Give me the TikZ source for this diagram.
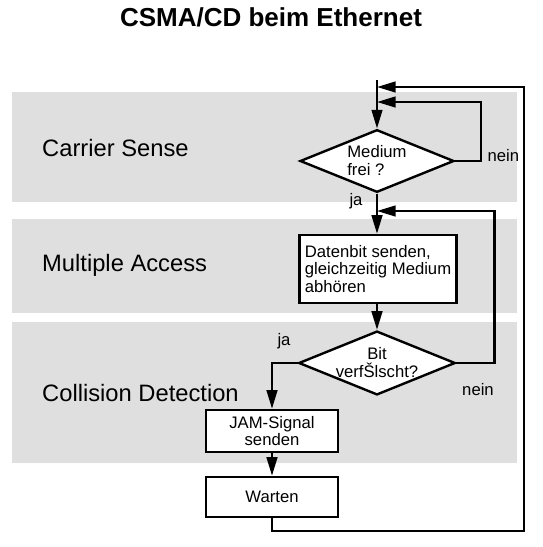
\documentclass[tikz,border=0pt]{standalone}
\usepackage{fontspec}
\setmainfont{Liberation Sans}
\usetikzlibrary{arrows.meta, shapes.geometric, positioning}

\begin{document}
\begin{tikzpicture}[x=0.75pt, y=-0.75pt, >={Triangle[length=14pt,width=8pt]}, line width=1.8pt,
  decision/.style={diamond, draw, fill=white, inner sep=0pt, aspect=2.45, font=\fontsize{12.5}{13.5}\selectfont},
  procbox/.style={rectangle, draw, fill=white, font=\fontsize{12.5}{13}\selectfont},
  phase/.style={anchor=west, inner sep=0pt, font=\fontsize{17.8}{20}\selectfont},
  lbl/.style={font=\fontsize{12.5}{14}\selectfont}]
\useasboundingbox (0,0) rectangle (543,547);
\fill[gray!25] (12,92) rectangle (517,202);
\fill[gray!25] (12,219) rectangle (517,313);
\fill[gray!25] (12,322) rectangle (517,463);
\node[font=\bfseries\fontsize{19.5}{22}\selectfont] (title) at (271,17) {CSMA/CD beim Ethernet};
\node[phase] (cs) at (41,148) {Carrier Sense};
\node[phase] (ma) at (41,265) {Multiple Access};
\node[phase] (cd) at (41,393) {Collision Detection};

\node[decision, minimum width=115.5pt, minimum height=47pt, align=left] (frei) at (377,161) {Medium\\frei ?};
\node[procbox, minimum width=118pt, minimum height=51pt, align=left] (senden) at (378,269) {Datenbit senden,\\gleichzeitig Medium\\abhören};
\node[decision, minimum width=115.5pt, minimum height=46.5pt, align=center] (bit) at (377,363) {Bit\\verfŠlscht?};
\node[procbox, minimum width=99pt, minimum height=31.5pt, align=center] (jam) at (272,431) {JAM-Signal\\senden};
\node[procbox, minimum width=99pt, minimum height=30pt] (warten) at (272,497) {Warten};

\coordinate (top) at (377,80);
\coordinate (in1) at (377,87);
\coordinate (in2) at (377,102);
\coordinate (in3) at (377,211);
\coordinate (ret) at (524,87);

\draw[->] (top) -- (frei.north);
\draw[->] (frei.south) -- (frei.south |- senden.north);
\draw[->] (bit.north |- senden.south) -- (bit.north);
\draw[->] (frei.east) -- ++(26,0) |- (in2);
\draw[->] (bit.east) -- ++(38,0) |- (in3);
\draw[->] (bit.west) -| (jam.north);
\draw[->] (jam.south) -- (warten.north);
\draw[->] (warten.south) -- ++(0,13) -| (ret) -- (in1);

\node[lbl] (ja1) at (356,201) {ja};
\node[lbl] (ja2) at (284,341) {ja};
\node[lbl, anchor=west] (nein1) at (482,156) {nein};
\node[lbl] (nein2) at (478,390) {nein};
\end{tikzpicture}
\end{document}
